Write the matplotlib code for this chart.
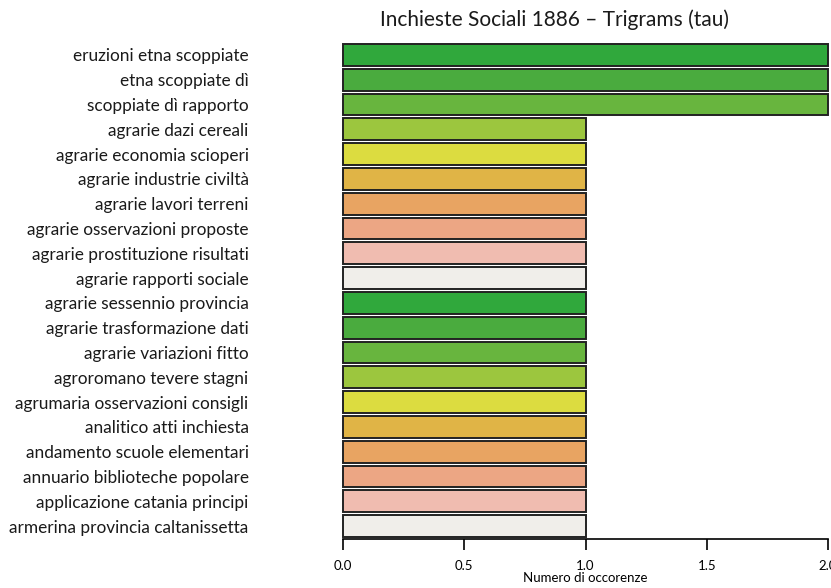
import matplotlib.pyplot as plt

# trigrammi e numero di occorrenze
trigrams = [
    "eruzioni etna scoppiate",
    "etna scoppiate dì",
    "scoppiate dì rapporto",
    "agrarie dazi cereali",
    "agrarie economia scioperi",
    "agrarie industrie civiltà",
    "agrarie lavori terreni",
    "agrarie osservazioni proposte",
    "agrarie prostituzione risultati",
    "agrarie rapporti sociale",
    "agrarie sessennio provincia",
    "agrarie trasformazione dati",
    "agrarie variazioni fitto",
    "agroromano tevere stagni",
    "agrumaria osservazioni consigli",
    "analitico atti inchiesta",
    "andamento scuole elementari",
    "annuario biblioteche popolare",
    "applicazione catania principi",
    "armerina provincia caltanissetta",
]
counts = [2, 2, 2, 1, 1, 1, 1, 1, 1, 1, 1, 1, 1, 1, 1, 1, 1, 1, 1, 1]

# palette tipo terrain.colors(10), ripetuta
palette = ["#30a83c", "#4aab3e", "#68b53e", "#9cc63e", "#dcdc40",
           "#e0b446", "#e8a462", "#eca684", "#f0bcb0", "#f0eeea"]
colors = [palette[i % len(palette)] for i in range(len(trigrams))]

plt.rcParams['font.family'] = ['Lato', 'DejaVu Sans']

fig = plt.figure(figsize=(8.31, 5.88), dpi=100)
ax = fig.add_axes([343 / 831, 1 - 539 / 588, 485 / 831, 495 / 588])

ypos = list(range(len(trigrams)))
bars = ax.barh(ypos, counts, height=0.88, color=colors,
               edgecolor="#222222", linewidth=1.4)
for b in bars:
    b.set_clip_on(False)

ax.set_xlim(0, 2)
ax.set_ylim(19.52, -0.44)
ax.set_yticks(ypos)
ax.set_yticklabels(trigrams, fontsize=12.4, color="#1a1a1a")
ax.tick_params(axis='y', length=0, pad=68)

ax.set_xticks([0, 0.5, 1.0, 1.5, 2.0])
ax.set_xticklabels(["0.0", "0.5", "1.0", "1.5", "2.0"], fontsize=9.5)
ax.tick_params(axis='x', length=8, width=1.2, pad=7)
ax.set_xlabel("Numero di occorenze", fontsize=9.5, labelpad=0)

for s in ['top', 'right', 'left']:
    ax.spines[s].set_visible(False)
ax.spines['bottom'].set_linewidth(1.2)

fig.text(555 / 831, 1 - 20 / 588, "Inchieste Sociali 1886 – Trigrams (tau)",
         ha='center', va='center', fontsize=15, color="#1a1a1a")

fig.savefig("out.png", dpi=100)
